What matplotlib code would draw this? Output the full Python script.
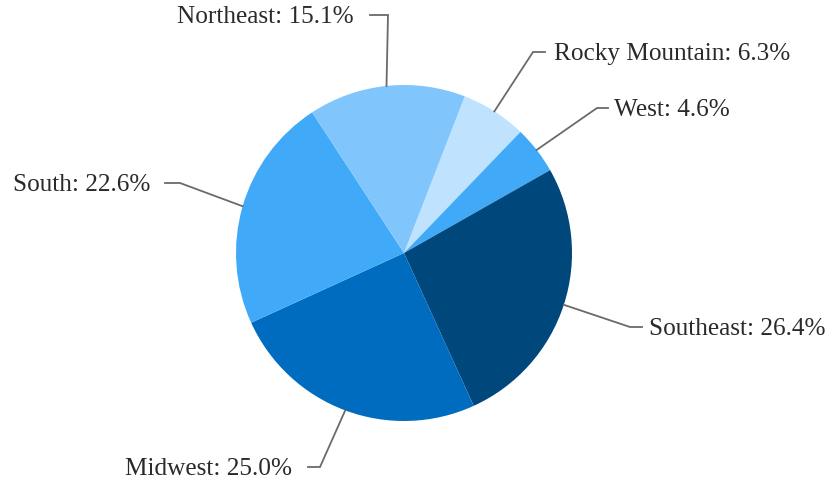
import matplotlib.pyplot as plt
import numpy as np

regions = ['Rocky Mountain', 'West', 'Southeast', 'Midwest', 'South', 'Northeast']
shares = [6.3, 4.6, 26.4, 25.0, 22.6, 15.1]
colors = ['#bfe2fe', '#41aaf8', '#00477c', '#006cbf', '#41aaf8', '#80c6fd']

# elbow of leader line, end of short horizontal tick, text anchor (pixel coords, y down)
leaders = {
    'Rocky Mountain': ((533, 52), (545, 52), (554, 54), 'left'),
    'West': ((597, 108), (608, 108), (614, 110), 'left'),
    'Southeast': ((630, 327), (642, 327), (649, 329), 'left'),
    'Midwest': ((320, 467), (308, 467), (292, 469), 'right'),
    'South': ((180, 183), (165, 183), (150, 185), 'right'),
    'Northeast': ((388, 15), (370, 15), (354, 17), 'right'),
}

W, H = 829, 488
fig = plt.figure(figsize=(W / 100, H / 100), dpi=100)
ax = fig.add_axes([0, 0, 1, 1])

cx, cy, r = 404, H - 253, 168
wedges, _ = ax.pie(shares, colors=colors, startangle=68.8, counterclock=False,
                   center=(cx, cy), radius=r, frame=True,
                   wedgeprops=dict(linewidth=0))

for w, name, val in zip(wedges, regions, shares):
    mid = np.deg2rad((w.theta1 + w.theta2) / 2)
    ex, ey = cx + r * np.cos(mid), cy + r * np.sin(mid)
    (bx, by), (tx, ty), (lx, ly), ha = leaders[name]
    ax.plot([ex, bx, tx], [ey, H - by, H - ty], color='#6a6a6a', lw=1.3,
            solid_joinstyle='miter')
    ax.text(lx, H - ly, f'{name}: {val:.1f}%', ha=ha, va='center',
            fontsize=18.2, family='Liberation Serif', color='#2a2a2a')

ax.set_xlim(0, W)
ax.set_ylim(0, H)
ax.set_aspect('equal')
ax.axis('off')
fig.savefig('out.png', dpi=100)
